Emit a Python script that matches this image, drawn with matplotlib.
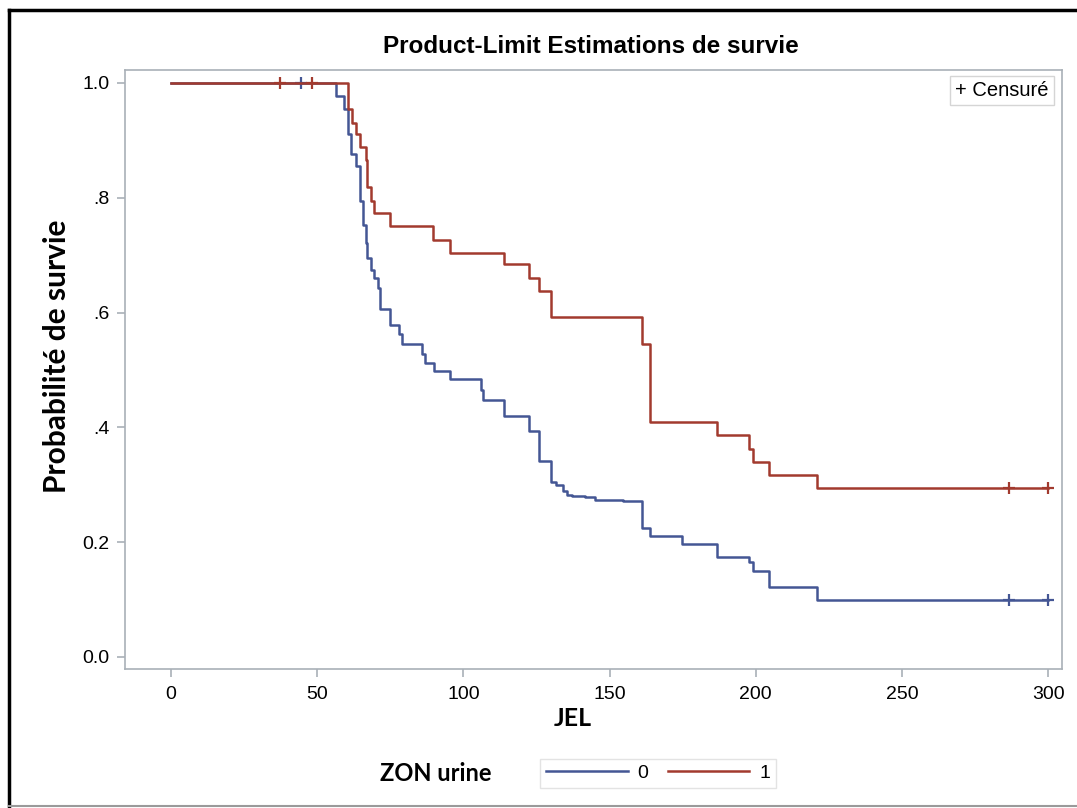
import numpy as np
import matplotlib
matplotlib.use('Agg')
import matplotlib.pyplot as plt
from matplotlib.lines import Line2D

plt.rcParams['font.family'] = ['Liberation Sans', 'DejaVu Sans']

# Kaplan-Meier steps, ZON urine = 0
times0 = [0, 56.4, 59.2, 60.4, 61.6, 63.2, 64.7, 65.8, 66.6, 67.2,
          68.3, 69.6, 70.7, 71.5, 74.8, 77.9, 78.9, 85.8, 86.9, 90.0,
          95.4, 106.0, 106.6, 113.9, 122.6, 126.0, 129.9, 131.7, 134.2, 135.4,
          137.1, 141.6, 145.1, 154.5, 161.0, 164.0, 174.8, 186.8, 197.7, 198.9,
          204.7, 220.9, 300]
surv0 = [1.0, 0.978, 0.955, 0.911, 0.876, 0.855, 0.795, 0.753, 0.721, 0.695,
         0.674, 0.660, 0.642, 0.606, 0.579, 0.563, 0.545, 0.528, 0.513, 0.499,
         0.484, 0.465, 0.447, 0.419, 0.394, 0.342, 0.305, 0.300, 0.290, 0.283,
         0.281, 0.278, 0.274, 0.271, 0.224, 0.210, 0.196, 0.174, 0.166, 0.149,
         0.122, 0.099, 0.099]
cens0 = [44.5, 286.7, 300]

# ZON urine = 1
times1 = [0, 60.4, 61.8, 63.2, 64.7, 66.6, 67.2, 68.3, 69.6, 74.9,
          89.7, 95.4, 113.9, 122.6, 126.0, 129.9, 161.0, 164.0, 186.8, 197.7,
          198.9, 204.7, 220.9, 300]
surv1 = [1.0, 0.954, 0.931, 0.911, 0.888, 0.866, 0.818, 0.795, 0.773, 0.751,
         0.726, 0.704, 0.685, 0.660, 0.638, 0.592, 0.546, 0.409, 0.386, 0.363,
         0.340, 0.317, 0.294, 0.294]
cens1 = [37.3, 48.1, 286.7, 300]

xticks = [0, 50, 100, 150, 200, 250, 300]
yticks = [0.0, 0.2, 0.4, 0.6, 0.8, 1.0]
ytick_labels = ['0.0', '0.2', '.4', '.6', '.8', '1.0']

blue = '#445694'
red = '#A23A2E'
frame_col = '#a9b0b7'


def surv_at(times, surv, t):
    idx = np.searchsorted(times, t, side='right') - 1
    return np.asarray(surv)[idx]


fig = plt.figure(figsize=(10.77, 8.08), dpi=100)
ax = fig.add_axes([0.1161, 0.1717, 0.8696, 0.7417])

for times, surv, cens, col in [(times0, surv0, cens0, blue), (times1, surv1, cens1, red)]:
    ax.step(times, surv, where='post', color=col, lw=1.8)
    ax.plot(cens, surv_at(times, surv, cens), ls='none', marker='+',
            ms=9, mew=1.6, color=col)

ax.set_xlim(-15.7, 304.6)
ax.set_ylim(-0.0214, 1.0226)
ax.set_xticks(xticks)
ax.set_yticks(yticks)
ax.set_yticklabels(ytick_labels)
ax.tick_params(axis='both', colors=frame_col, labelcolor='black', labelsize=14,
               length=6, width=1.2)
ax.tick_params(axis='x', pad=6)
ax.tick_params(axis='y', pad=5)
for sp in ax.spines.values():
    sp.set_color(frame_col)
    sp.set_linewidth(1.2)

fig.text(0.532, 0.111, 'JEL', fontfamily='Lato', fontweight='bold', fontsize=18,
         ha='center', va='center')
fig.text(0.053, 0.559, 'Probabilité de survie', fontfamily='Lato', fontweight='bold',
         fontsize=21.5, rotation=90, ha='center', va='center')
fig.text(0.549, 0.943, 'Product-Limit Estimations de survie', ha='center',
         va='center', fontweight='bold', fontsize=17.5)

ax.text(0.9865, 0.981, '+ Censuré', transform=ax.transAxes, ha='right', va='top',
        fontsize=14.5, bbox=dict(boxstyle='square,pad=0.25', fc='white', ec='#d5d5d5', lw=1))

# bottom group legend
fig.text(0.353, 0.043, 'ZON urine', fontfamily='Lato', fontweight='bold',
         fontsize=17, va='center', ha='left')
handles = [Line2D([], [], color=blue, lw=1.8), Line2D([], [], color=red, lw=1.8)]
leg = fig.legend(handles, ['0', '1'], loc='center', bbox_to_anchor=(0.611, 0.043),
                 ncol=2, fontsize=14, handlelength=4.2, handletextpad=0.5,
                 columnspacing=1.0, frameon=True, fancybox=False, borderpad=0.3)
leg.get_frame().set_edgecolor('#dcdcdc')
leg.get_frame().set_linewidth(1)

# outer frame of the picture
fig.add_artist(Line2D([0.0085, 0.0085], [0.0, 0.9876], color='black', lw=2.5,
                      transform=fig.transFigure))
fig.add_artist(Line2D([0.0085, 1.0], [0.9876, 0.9876], color='black', lw=2.5,
                      transform=fig.transFigure))
fig.add_artist(Line2D([0.0085, 1.0], [0.0025, 0.0025], color='#9a9a9a', lw=1.5,
                      transform=fig.transFigure))

fig.savefig('out.png', dpi=100)
